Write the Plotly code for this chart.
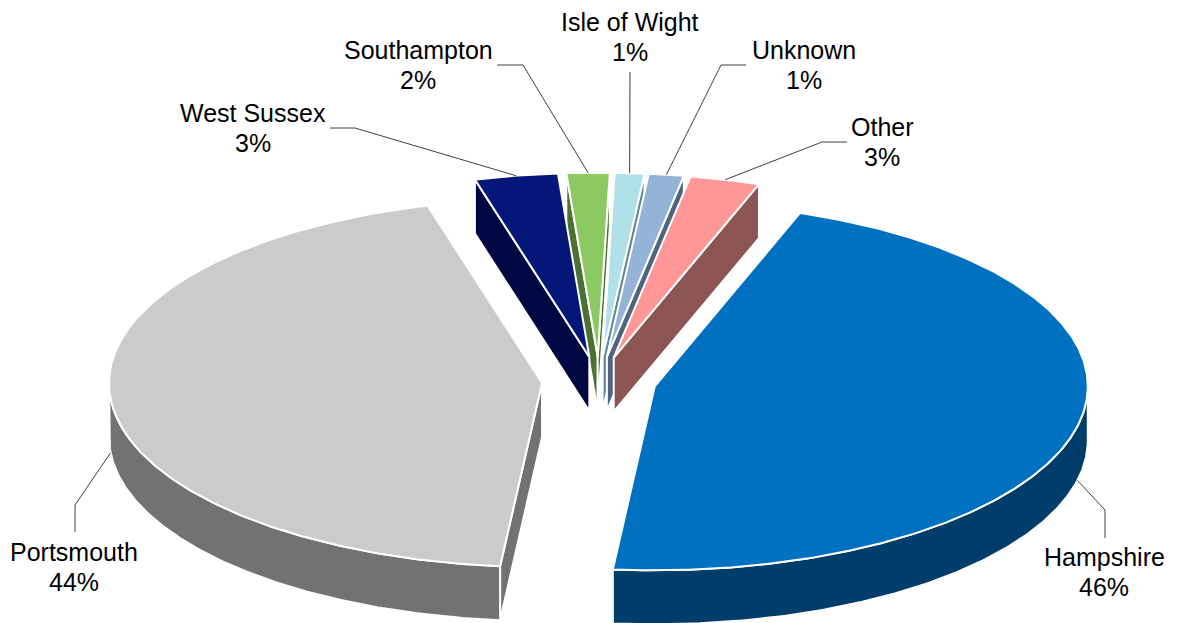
import numpy as np
import plotly.graph_objects as go

# ---------------- data ----------------
categories = ["Hampshire", "Portsmouth", "West Sussex", "Southampton",
              "Isle of Wight", "Unknown", "Other"]
values = [46.1, 44.2, 3.1, 1.6, 1.1, 1.3, 2.6]

top_colors = ["#0070C0", "#CBCBCB", "#041677", "#8CC963", "#B0E0E8", "#94B3D6", "#FF9797"]
side_colors = ["#003D6A", "#727272", "#000742", "#4B7233", "#608A90", "#4F647E", "#8D5454"]

# label layout: centre x, name line y, percent line y
label_pos = {
    "Hampshire":     (1104, 557, 587),
    "Portsmouth":    (74, 552, 582),
    "West Sussex":   (253, 113, 143),
    "Southampton":   (418, 50, 80),
    "Isle of Wight": (630, 22, 52),
    "Unknown":       (804, 50, 80),
    "Other":         (882, 127, 157),
}
leader_start = {
    "Hampshire":     (1105, 538),
    "Portsmouth":    (75, 532),
    "West Sussex":   (330, 128),
    "Southampton":   (497, 65),
    "Isle of Wight": (630, 72),
    "Unknown":       (746, 65),
    "Other":         (847, 142),
}
leader_knee = {
    "Hampshire":     (1105, 510),
    "Portsmouth":    (75, 505),
    "West Sussex":   (355, 128),
    "Southampton":   (523, 65),
    "Isle of Wight": (630, 72),
    "Unknown":       (721, 65),
    "Other":         (822, 142),
}

# ---------------- geometry / style ----------------
W, H = 1178, 623
PAGE_OFFSET = 8  # default page margin of the html body
CX, CY = 599, 381
RX, RY = 433, 184
DEPTH = 54
EXPLODE = 0.132
START = 19.6  # angle of first slice (deg, clockwise from 12 o'clock)
FONT = "Liberation Sans, Arial, sans-serif"
FONT_SIZE = 25

total = float(sum(values))
spans = np.array(values) / total * 360.0
a0s = START + np.concatenate([[0], np.cumsum(spans)[:-1]])
a1s = a0s + spans


def pt(theta, ox, oy, r=1.0, dy=0.0):
    t = np.radians(theta)
    return CX + ox + r * RX * np.sin(t), CY + oy - r * RY * np.cos(t) + dy


faces = []
leaders = []
for i, name in enumerate(categories):
    a0, a1 = a0s[i], a1s[i]
    mid = (a0 + a1) / 2
    ox = EXPLODE * RX * np.sin(np.radians(mid))
    oy = -EXPLODE * RY * np.cos(np.radians(mid))
    tipx, tipy = CX + ox, CY + oy
    order = np.cos(np.radians(mid))
    polys = []
    for ang, vis in ((a0, 180 < (a0 % 360) < 360), (a1, 0 < (a1 % 360) < 180)):
        if vis:
            rx_, ry_ = pt(ang, ox, oy)
            polys.append(([tipx, rx_, rx_, tipx, tipx],
                          [tipy, ry_, ry_ + DEPTH, tipy + DEPTH, tipy],
                          side_colors[i]))
    b0, b1 = max(a0, 90), min(a1, 270)
    if b1 > b0:
        th = np.linspace(b0, b1, max(4, int((b1 - b0) * 2)))
        xs, ys = pt(th, ox, oy)
        polys.append((list(xs) + list(xs[::-1]) + [xs[0]],
                      list(ys) + list((ys + DEPTH)[::-1]) + [ys[0]],
                      side_colors[i]))
    th = np.linspace(a0, a1, max(4, int((a1 - a0) * 2)))
    xs, ys = pt(th, ox, oy)
    polys.append(([tipx] + list(xs) + [tipx], [tipy] + list(ys) + [tipy], top_colors[i]))
    faces.append((-order, polys))
    ex, ey = pt(mid, ox, oy, dy=(DEPTH if np.cos(np.radians(mid)) < 0 else 0))
    leaders.append((name, ex, ey))

fig = go.Figure()
for _, polys in sorted(faces, key=lambda f: f[0]):
    for xs, ys, col in polys:
        fig.add_trace(go.Scatter(x=xs, y=ys, mode="lines", fill="toself",
                                 fillcolor=col, line=dict(color="white", width=2),
                                 hoverinfo="skip", showlegend=False))

for name, ex, ey in leaders:
    sx, sy = leader_start[name]
    kx, ky = leader_knee[name]
    fig.add_trace(go.Scatter(x=[sx, kx, ex], y=[sy, ky, ey], mode="lines",
                             line=dict(color="#404040", width=1),
                             hoverinfo="skip", showlegend=False))

for i, name in enumerate(categories):
    lx, ly1, ly2 = label_pos[name]
    pct = values[i] / total * 100
    for txt, ly in ((name, ly1), (f"{pct:.0f}%", ly2)):
        fig.add_annotation(x=lx, y=ly, xref="x", yref="y", showarrow=False,
                           text=txt, xanchor="center", yanchor="middle",
                           font=dict(family=FONT, size=FONT_SIZE, color="black"))

fig.update_layout(
    width=W, height=H, margin=dict(l=0, r=0, t=0, b=0),
    paper_bgcolor="white", plot_bgcolor="white", showlegend=False,
    xaxis=dict(range=[PAGE_OFFSET, W + PAGE_OFFSET], visible=False, fixedrange=True),
    yaxis=dict(range=[H + PAGE_OFFSET, PAGE_OFFSET], visible=False, fixedrange=True),
)
fig.write_html("out.html")
